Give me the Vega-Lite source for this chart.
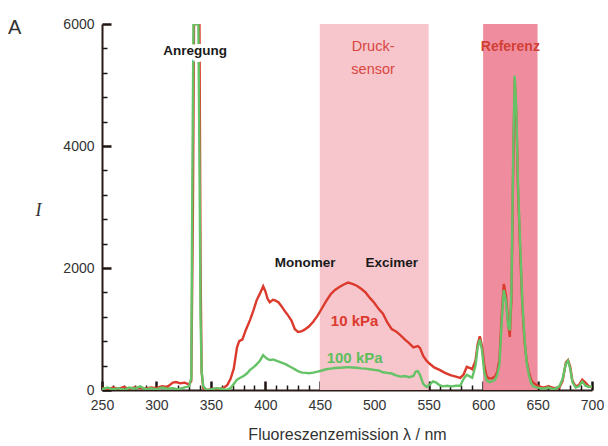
{
  "$schema": "https://vega.github.io/schema/vega-lite/v6.json",
  "width": 490,
  "height": 366,
  "autosize": {"type": "none"},
  "padding": {"left": 102, "top": 24, "right": 16, "bottom": 56},
  "background": "white",
  "title": {"text": "A", "anchor": "start", "frame": "group", "orient": "top", "dx": -94, "dy": 37, "offset": 0, "baseline": "alphabetic", "fontSize": 20, "fontWeight": "normal", "font": "Liberation Sans", "color": "#333333"},
  "config": {
    "view": {"stroke": null},
    "axis": {"grid": false, "zindex": 2, "domainColor": "#2b1b17", "domainWidth": 2, "labelFont": "Liberation Sans", "labelFontSize": 14, "labelColor": "#333333", "titleFont": "Liberation Sans", "titleColor": "#333333", "titleFontWeight": "normal", "labelOverlap": false}
  },
  "resolve": {"axis": {"x": "independent", "y": "independent"}},
  "datasets": {
    "regions": [{"start": 450, "end": 550, "name": "Druck-sensor"}, {"start": 600, "end": 650, "name": "Referenz"}],
    "spectra": [
      {"lam": 250, "I": 30, "p": "10 kPa"}, {"lam": 255, "I": 10, "p": "10 kPa"}, {"lam": 260, "I": 40, "p": "10 kPa"}, {"lam": 265, "I": 20, "p": "10 kPa"}, {"lam": 270, "I": 50, "p": "10 kPa"}, {"lam": 275, "I": 20, "p": "10 kPa"}, {"lam": 280, "I": 40, "p": "10 kPa"}, {"lam": 285, "I": 30, "p": "10 kPa"}, {"lam": 290, "I": 20, "p": "10 kPa"}, {"lam": 295, "I": 40, "p": "10 kPa"}, {"lam": 300, "I": 30, "p": "10 kPa"}, {"lam": 305, "I": 60, "p": "10 kPa"}, {"lam": 310, "I": 50, "p": "10 kPa"}, {"lam": 315, "I": 120, "p": "10 kPa"}, {"lam": 318, "I": 130, "p": "10 kPa"}, {"lam": 322, "I": 110, "p": "10 kPa"}, {"lam": 326, "I": 120, "p": "10 kPa"}, {"lam": 330, "I": 90, "p": "10 kPa"}, {"lam": 332, "I": 150, "p": "10 kPa"}, {"lam": 333.5, "I": 3000, "p": "10 kPa"}, {"lam": 334.5, "I": 6000, "p": "10 kPa"}, {"lam": 339.5, "I": 6000, "p": "10 kPa"}, {"lam": 340.5, "I": 2000, "p": "10 kPa"}, {"lam": 341.5, "I": 300, "p": "10 kPa"}, {"lam": 343, "I": 30, "p": "10 kPa"}, {"lam": 347, "I": 0, "p": "10 kPa"}, {"lam": 352, "I": 20, "p": "10 kPa"}, {"lam": 357, "I": 10, "p": "10 kPa"}, {"lam": 362, "I": 40, "p": "10 kPa"}, {"lam": 365, "I": 80, "p": "10 kPa"}, {"lam": 368, "I": 180, "p": "10 kPa"}, {"lam": 371, "I": 350, "p": "10 kPa"}, {"lam": 374, "I": 700, "p": "10 kPa"}, {"lam": 376, "I": 800, "p": "10 kPa"}, {"lam": 379, "I": 830, "p": "10 kPa"}, {"lam": 382, "I": 980, "p": "10 kPa"}, {"lam": 386, "I": 1150, "p": "10 kPa"}, {"lam": 389, "I": 1300, "p": "10 kPa"}, {"lam": 392, "I": 1470, "p": "10 kPa"}, {"lam": 395, "I": 1580, "p": "10 kPa"}, {"lam": 398, "I": 1700, "p": "10 kPa"}, {"lam": 400, "I": 1620, "p": "10 kPa"}, {"lam": 402, "I": 1500, "p": "10 kPa"}, {"lam": 404, "I": 1440, "p": "10 kPa"}, {"lam": 407, "I": 1480, "p": "10 kPa"}, {"lam": 409, "I": 1470, "p": "10 kPa"}, {"lam": 412, "I": 1440, "p": "10 kPa"}, {"lam": 415, "I": 1370, "p": "10 kPa"}, {"lam": 418, "I": 1290, "p": "10 kPa"}, {"lam": 421, "I": 1220, "p": "10 kPa"}, {"lam": 424, "I": 1140, "p": "10 kPa"}, {"lam": 427, "I": 1000, "p": "10 kPa"}, {"lam": 430, "I": 950, "p": "10 kPa"}, {"lam": 433, "I": 960, "p": "10 kPa"}, {"lam": 436, "I": 990, "p": "10 kPa"}, {"lam": 440, "I": 1040, "p": "10 kPa"}, {"lam": 444, "I": 1120, "p": "10 kPa"}, {"lam": 448, "I": 1220, "p": "10 kPa"}, {"lam": 452, "I": 1340, "p": "10 kPa"}, {"lam": 456, "I": 1460, "p": "10 kPa"}, {"lam": 460, "I": 1570, "p": "10 kPa"}, {"lam": 464, "I": 1640, "p": "10 kPa"}, {"lam": 468, "I": 1690, "p": "10 kPa"}, {"lam": 472, "I": 1730, "p": "10 kPa"}, {"lam": 476, "I": 1760, "p": "10 kPa"}, {"lam": 480, "I": 1740, "p": "10 kPa"}, {"lam": 484, "I": 1710, "p": "10 kPa"}, {"lam": 488, "I": 1660, "p": "10 kPa"}, {"lam": 492, "I": 1600, "p": "10 kPa"}, {"lam": 496, "I": 1510, "p": "10 kPa"}, {"lam": 500, "I": 1430, "p": "10 kPa"}, {"lam": 504, "I": 1330, "p": "10 kPa"}, {"lam": 508, "I": 1250, "p": "10 kPa"}, {"lam": 512, "I": 1110, "p": "10 kPa"}, {"lam": 516, "I": 1000, "p": "10 kPa"}, {"lam": 520, "I": 960, "p": "10 kPa"}, {"lam": 524, "I": 900, "p": "10 kPa"}, {"lam": 528, "I": 830, "p": "10 kPa"}, {"lam": 532, "I": 770, "p": "10 kPa"}, {"lam": 536, "I": 700, "p": "10 kPa"}, {"lam": 540, "I": 720, "p": "10 kPa"}, {"lam": 542, "I": 690, "p": "10 kPa"}, {"lam": 545, "I": 560, "p": "10 kPa"}, {"lam": 548, "I": 480, "p": "10 kPa"}, {"lam": 551, "I": 430, "p": "10 kPa"}, {"lam": 555, "I": 370, "p": "10 kPa"}, {"lam": 560, "I": 330, "p": "10 kPa"}, {"lam": 565, "I": 280, "p": "10 kPa"}, {"lam": 570, "I": 245, "p": "10 kPa"}, {"lam": 575, "I": 220, "p": "10 kPa"}, {"lam": 579, "I": 200, "p": "10 kPa"}, {"lam": 582, "I": 250, "p": "10 kPa"}, {"lam": 585, "I": 380, "p": "10 kPa"}, {"lam": 588, "I": 360, "p": "10 kPa"}, {"lam": 590, "I": 340, "p": "10 kPa"}, {"lam": 593, "I": 480, "p": "10 kPa"}, {"lam": 595, "I": 750, "p": "10 kPa"}, {"lam": 597, "I": 880, "p": "10 kPa"}, {"lam": 599, "I": 720, "p": "10 kPa"}, {"lam": 601, "I": 420, "p": "10 kPa"}, {"lam": 603, "I": 240, "p": "10 kPa"}, {"lam": 605, "I": 190, "p": "10 kPa"}, {"lam": 608, "I": 190, "p": "10 kPa"}, {"lam": 611, "I": 220, "p": "10 kPa"}, {"lam": 613, "I": 300, "p": "10 kPa"}, {"lam": 615, "I": 500, "p": "10 kPa"}, {"lam": 617, "I": 1200, "p": "10 kPa"}, {"lam": 619, "I": 1740, "p": "10 kPa"}, {"lam": 621, "I": 1550, "p": "10 kPa"}, {"lam": 623, "I": 1100, "p": "10 kPa"}, {"lam": 624.5, "I": 870, "p": "10 kPa"}, {"lam": 626, "I": 1500, "p": "10 kPa"}, {"lam": 627.5, "I": 3500, "p": "10 kPa"}, {"lam": 629, "I": 5100, "p": "10 kPa"}, {"lam": 630.5, "I": 4500, "p": "10 kPa"}, {"lam": 632, "I": 3300, "p": "10 kPa"}, {"lam": 634, "I": 2300, "p": "10 kPa"}, {"lam": 636, "I": 1400, "p": "10 kPa"}, {"lam": 638, "I": 800, "p": "10 kPa"}, {"lam": 640, "I": 480, "p": "10 kPa"}, {"lam": 642, "I": 300, "p": "10 kPa"}, {"lam": 644, "I": 170, "p": "10 kPa"}, {"lam": 646, "I": 120, "p": "10 kPa"}, {"lam": 650, "I": 70, "p": "10 kPa"}, {"lam": 655, "I": 40, "p": "10 kPa"}, {"lam": 660, "I": 60, "p": "10 kPa"}, {"lam": 665, "I": 30, "p": "10 kPa"}, {"lam": 670, "I": 40, "p": "10 kPa"}, {"lam": 673, "I": 150, "p": "10 kPa"}, {"lam": 676, "I": 450, "p": "10 kPa"}, {"lam": 678, "I": 490, "p": "10 kPa"}, {"lam": 680, "I": 380, "p": "10 kPa"}, {"lam": 682, "I": 150, "p": "10 kPa"}, {"lam": 685, "I": 60, "p": "10 kPa"}, {"lam": 688, "I": 80, "p": "10 kPa"}, {"lam": 691, "I": 170, "p": "10 kPa"}, {"lam": 694, "I": 120, "p": "10 kPa"}, {"lam": 697, "I": 60, "p": "10 kPa"}, {"lam": 700, "I": 50, "p": "10 kPa"},
      {"lam": 250, "I": 10, "p": "100 kPa"}, {"lam": 255, "I": 40, "p": "100 kPa"}, {"lam": 260, "I": 10, "p": "100 kPa"}, {"lam": 265, "I": 30, "p": "100 kPa"}, {"lam": 270, "I": 0, "p": "100 kPa"}, {"lam": 275, "I": 40, "p": "100 kPa"}, {"lam": 280, "I": 20, "p": "100 kPa"}, {"lam": 285, "I": 60, "p": "100 kPa"}, {"lam": 290, "I": 10, "p": "100 kPa"}, {"lam": 295, "I": 30, "p": "100 kPa"}, {"lam": 300, "I": 10, "p": "100 kPa"}, {"lam": 305, "I": 40, "p": "100 kPa"}, {"lam": 310, "I": 20, "p": "100 kPa"}, {"lam": 315, "I": 30, "p": "100 kPa"}, {"lam": 320, "I": 10, "p": "100 kPa"}, {"lam": 325, "I": 40, "p": "100 kPa"}, {"lam": 330, "I": 60, "p": "100 kPa"}, {"lam": 332, "I": 200, "p": "100 kPa"}, {"lam": 333, "I": 3500, "p": "100 kPa"}, {"lam": 334, "I": 6000, "p": "100 kPa"}, {"lam": 338.5, "I": 6000, "p": "100 kPa"}, {"lam": 339.5, "I": 3800, "p": "100 kPa"}, {"lam": 340.5, "I": 1200, "p": "100 kPa"}, {"lam": 341.5, "I": 300, "p": "100 kPa"}, {"lam": 343, "I": 60, "p": "100 kPa"}, {"lam": 346, "I": 0, "p": "100 kPa"}, {"lam": 350, "I": 10, "p": "100 kPa"}, {"lam": 355, "I": 30, "p": "100 kPa"}, {"lam": 360, "I": 20, "p": "100 kPa"}, {"lam": 364, "I": 0, "p": "100 kPa"}, {"lam": 368, "I": 30, "p": "100 kPa"}, {"lam": 371, "I": 100, "p": "100 kPa"}, {"lam": 374, "I": 170, "p": "100 kPa"}, {"lam": 377, "I": 200, "p": "100 kPa"}, {"lam": 380, "I": 230, "p": "100 kPa"}, {"lam": 383, "I": 270, "p": "100 kPa"}, {"lam": 386, "I": 330, "p": "100 kPa"}, {"lam": 389, "I": 370, "p": "100 kPa"}, {"lam": 392, "I": 420, "p": "100 kPa"}, {"lam": 395, "I": 480, "p": "100 kPa"}, {"lam": 398, "I": 570, "p": "100 kPa"}, {"lam": 401, "I": 520, "p": "100 kPa"}, {"lam": 404, "I": 490, "p": "100 kPa"}, {"lam": 407, "I": 500, "p": "100 kPa"}, {"lam": 410, "I": 480, "p": "100 kPa"}, {"lam": 413, "I": 460, "p": "100 kPa"}, {"lam": 416, "I": 440, "p": "100 kPa"}, {"lam": 419, "I": 420, "p": "100 kPa"}, {"lam": 422, "I": 390, "p": "100 kPa"}, {"lam": 425, "I": 360, "p": "100 kPa"}, {"lam": 428, "I": 330, "p": "100 kPa"}, {"lam": 431, "I": 300, "p": "100 kPa"}, {"lam": 434, "I": 285, "p": "100 kPa"}, {"lam": 437, "I": 280, "p": "100 kPa"}, {"lam": 440, "I": 275, "p": "100 kPa"}, {"lam": 444, "I": 285, "p": "100 kPa"}, {"lam": 448, "I": 300, "p": "100 kPa"}, {"lam": 452, "I": 320, "p": "100 kPa"}, {"lam": 456, "I": 340, "p": "100 kPa"}, {"lam": 460, "I": 350, "p": "100 kPa"}, {"lam": 464, "I": 360, "p": "100 kPa"}, {"lam": 468, "I": 365, "p": "100 kPa"}, {"lam": 472, "I": 370, "p": "100 kPa"}, {"lam": 476, "I": 375, "p": "100 kPa"}, {"lam": 480, "I": 370, "p": "100 kPa"}, {"lam": 484, "I": 365, "p": "100 kPa"}, {"lam": 488, "I": 355, "p": "100 kPa"}, {"lam": 492, "I": 350, "p": "100 kPa"}, {"lam": 496, "I": 340, "p": "100 kPa"}, {"lam": 500, "I": 330, "p": "100 kPa"}, {"lam": 504, "I": 320, "p": "100 kPa"}, {"lam": 508, "I": 290, "p": "100 kPa"}, {"lam": 512, "I": 280, "p": "100 kPa"}, {"lam": 516, "I": 270, "p": "100 kPa"}, {"lam": 520, "I": 240, "p": "100 kPa"}, {"lam": 524, "I": 220, "p": "100 kPa"}, {"lam": 528, "I": 230, "p": "100 kPa"}, {"lam": 532, "I": 210, "p": "100 kPa"}, {"lam": 536, "I": 230, "p": "100 kPa"}, {"lam": 538, "I": 300, "p": "100 kPa"}, {"lam": 540, "I": 310, "p": "100 kPa"}, {"lam": 542, "I": 250, "p": "100 kPa"}, {"lam": 545, "I": 100, "p": "100 kPa"}, {"lam": 548, "I": 50, "p": "100 kPa"}, {"lam": 551, "I": 90, "p": "100 kPa"}, {"lam": 554, "I": 140, "p": "100 kPa"}, {"lam": 557, "I": 120, "p": "100 kPa"}, {"lam": 560, "I": 80, "p": "100 kPa"}, {"lam": 563, "I": 60, "p": "100 kPa"}, {"lam": 567, "I": 70, "p": "100 kPa"}, {"lam": 571, "I": 60, "p": "100 kPa"}, {"lam": 575, "I": 70, "p": "100 kPa"}, {"lam": 579, "I": 70, "p": "100 kPa"}, {"lam": 582, "I": 180, "p": "100 kPa"}, {"lam": 585, "I": 250, "p": "100 kPa"}, {"lam": 588, "I": 220, "p": "100 kPa"}, {"lam": 590, "I": 200, "p": "100 kPa"}, {"lam": 593, "I": 400, "p": "100 kPa"}, {"lam": 595, "I": 700, "p": "100 kPa"}, {"lam": 597, "I": 830, "p": "100 kPa"}, {"lam": 599, "I": 650, "p": "100 kPa"}, {"lam": 601, "I": 300, "p": "100 kPa"}, {"lam": 603, "I": 160, "p": "100 kPa"}, {"lam": 606, "I": 130, "p": "100 kPa"}, {"lam": 609, "I": 150, "p": "100 kPa"}, {"lam": 611, "I": 170, "p": "100 kPa"}, {"lam": 613, "I": 250, "p": "100 kPa"}, {"lam": 615, "I": 420, "p": "100 kPa"}, {"lam": 617, "I": 1100, "p": "100 kPa"}, {"lam": 619, "I": 1640, "p": "100 kPa"}, {"lam": 621, "I": 1450, "p": "100 kPa"}, {"lam": 623, "I": 1050, "p": "100 kPa"}, {"lam": 624.5, "I": 980, "p": "100 kPa"}, {"lam": 626, "I": 1600, "p": "100 kPa"}, {"lam": 627.5, "I": 3700, "p": "100 kPa"}, {"lam": 629, "I": 5150, "p": "100 kPa"}, {"lam": 630.5, "I": 4600, "p": "100 kPa"}, {"lam": 632, "I": 3400, "p": "100 kPa"}, {"lam": 634, "I": 2400, "p": "100 kPa"}, {"lam": 636, "I": 1450, "p": "100 kPa"}, {"lam": 638, "I": 850, "p": "100 kPa"}, {"lam": 640, "I": 450, "p": "100 kPa"}, {"lam": 642, "I": 250, "p": "100 kPa"}, {"lam": 644, "I": 120, "p": "100 kPa"}, {"lam": 646, "I": 60, "p": "100 kPa"}, {"lam": 650, "I": 40, "p": "100 kPa"}, {"lam": 655, "I": 20, "p": "100 kPa"}, {"lam": 660, "I": 40, "p": "100 kPa"}, {"lam": 665, "I": 10, "p": "100 kPa"}, {"lam": 670, "I": 60, "p": "100 kPa"}, {"lam": 673, "I": 180, "p": "100 kPa"}, {"lam": 676, "I": 430, "p": "100 kPa"}, {"lam": 678, "I": 480, "p": "100 kPa"}, {"lam": 680, "I": 350, "p": "100 kPa"}, {"lam": 682, "I": 130, "p": "100 kPa"}, {"lam": 685, "I": 40, "p": "100 kPa"}, {"lam": 688, "I": 60, "p": "100 kPa"}, {"lam": 691, "I": 140, "p": "100 kPa"}, {"lam": 694, "I": 70, "p": "100 kPa"}, {"lam": 697, "I": 50, "p": "100 kPa"}, {"lam": 700, "I": 60, "p": "100 kPa"}
    ],
    "haloLabels": [{"lam": 335.5, "I": 5560, "text": "Anregung"}],
    "blackLabels": [{"lam": 335.5, "I": 5560, "text": "Anregung"}, {"lam": 436.5, "I": 2080, "text": "Monomer"}, {"lam": 516, "I": 2080, "text": "Excimer"}],
    "sensorLabels": [{"lam": 499, "I": 5620, "text": "Druck-"}, {"lam": 499, "I": 5250, "text": "sensor"}],
    "refLabels": [{"lam": 625, "I": 5620, "text": "Referenz"}],
    "redLabels": [{"lam": 482, "I": 1130, "text": "10 kPa"}],
    "greenLabels": [{"lam": 482, "I": 530, "text": "100 kPa"}]
  },
  "layer": [
    {
      "data": {"name": "regions"},
      "transform": [{"filter": "datum.name === 'Druck-sensor'"}],
      "mark": {"type": "rect", "color": "#f7c5cc", "opacity": 1},
      "encoding": {
        "x": {"field": "start", "type": "quantitative", "scale": {"domain": [250, 700], "nice": false, "zero": false},
          "axis": {"orient": "bottom", "values": [250, 300, 350, 400, 450, 500, 550, 600, 650, 700], "ticks": false, "labelPadding": 8,
            "title": "Fluoreszenzemission λ / nm", "titleFontSize": 16, "titlePadding": 14, "labelFlush": false}},
        "x2": {"field": "end"},
        "y": {"datum": 0, "type": "quantitative", "scale": {"domain": [0, 6000], "nice": false},
          "axis": {"orient": "left", "values": [400,800,1200,1600,2400,2800,3200,3600,4400,4800,5200,5600], "offset": -5, "tickSize": 5, "tickWidth": 1.5, "tickColor": "#1e1412", "labels": false, "domain": false, "title": null}},
        "y2": {"datum": 6000}
      }
    },
    {
      "data": {"name": "regions"},
      "transform": [{"filter": "datum.name === 'Referenz'"}],
      "mark": {"type": "rect", "color": "#ef8d9f", "opacity": 1},
      "encoding": {
        "x": {"field": "start", "type": "quantitative",
          "axis": {"orient": "bottom", "values": [250, 300, 350, 400, 450, 500, 550, 600, 650, 700], "offset": -9, "tickSize": 9, "tickWidth": 2.5, "tickColor": "#1e1412", "labels": false, "domain": false, "title": null}},
        "x2": {"field": "end"},
        "y": {"datum": 0, "type": "quantitative",
          "axis": {"orient": "left", "values": [0, 2000, 4000, 6000], "offset": -9, "tickSize": 9, "tickWidth": 2.5, "tickColor": "#1e1412", "labels": false, "domain": false, "title": null}},
        "y2": {"datum": 6000}
      }
    },
    {
      "data": {"name": "spectra"},
      "mark": {"type": "line", "strokeWidth": 2.4, "clip": true, "interpolate": "linear"},
      "encoding": {
        "x": {"field": "lam", "type": "quantitative",
          "axis": {"orient": "bottom", "values": [260,270,280,290,310,320,330,340,360,370,380,390,410,420,430,440,460,470,480,490,510,520,530,540,560,570,580,590,610,620,630,640,660,670,680,690],
            "offset": -5, "tickSize": 5, "tickWidth": 1.5, "tickColor": "#1e1412", "labels": false, "domain": false, "title": null}},
        "y": {"field": "I", "type": "quantitative",
          "axis": {"orient": "left", "values": [0, 2000, 4000, 6000], "format": "d", "ticks": false, "labelPadding": 8, "labelFlush": false,
            "title": "I", "titleAngle": 0, "titleFont": "Liberation Serif", "titleFontStyle": "italic", "titleFontSize": 18, "titleX": -64, "titleY": 186, "titleAlign": "center", "titleBaseline": "middle"}},
        "color": {"field": "p", "type": "nominal", "scale": {"domain": ["10 kPa", "100 kPa"], "range": ["#dc3a2c", "#66c266"]}, "legend": null},
        "order": {"field": "lam", "type": "quantitative"}
      }
    },
    {
      "data": {"name": "haloLabels"},
      "mark": {"type": "text", "font": "Liberation Sans", "fontWeight": "bold", "fontSize": 13.5, "stroke": "white", "strokeWidth": 8, "strokeJoin": "round", "color": "white"},
      "encoding": {"x": {"field": "lam", "type": "quantitative", "axis": null}, "y": {"field": "I", "type": "quantitative", "axis": null}, "text": {"field": "text"}}
    },
    {
      "data": {"name": "blackLabels"},
      "mark": {"type": "text", "font": "Liberation Sans", "fontWeight": "bold", "fontSize": 13.5, "color": "#1a1a1a"},
      "encoding": {"x": {"field": "lam", "type": "quantitative", "axis": null}, "y": {"field": "I", "type": "quantitative", "axis": null}, "text": {"field": "text"}}
    },
    {
      "data": {"name": "sensorLabels"},
      "mark": {"type": "text", "font": "Liberation Sans", "fontWeight": "normal", "fontSize": 14.5, "color": "#d9473f"},
      "encoding": {"x": {"field": "lam", "type": "quantitative", "axis": null}, "y": {"field": "I", "type": "quantitative", "axis": null}, "text": {"field": "text"}}
    },
    {
      "data": {"name": "refLabels"},
      "mark": {"type": "text", "font": "Liberation Sans", "fontWeight": "bold", "fontSize": 14, "color": "#d23f35"},
      "encoding": {"x": {"field": "lam", "type": "quantitative", "axis": null}, "y": {"field": "I", "type": "quantitative", "axis": null}, "text": {"field": "text"}}
    },
    {
      "data": {"name": "redLabels"},
      "mark": {"type": "text", "font": "Liberation Sans", "fontWeight": "bold", "fontSize": 15, "color": "#dc3a2c"},
      "encoding": {"x": {"field": "lam", "type": "quantitative", "axis": null}, "y": {"field": "I", "type": "quantitative", "axis": null}, "text": {"field": "text"}}
    },
    {
      "data": {"name": "greenLabels"},
      "mark": {"type": "text", "font": "Liberation Sans", "fontWeight": "bold", "fontSize": 15, "color": "#5cbf5c"},
      "encoding": {"x": {"field": "lam", "type": "quantitative", "axis": null}, "y": {"field": "I", "type": "quantitative", "axis": null}, "text": {"field": "text"}}
    }
  ]
}
